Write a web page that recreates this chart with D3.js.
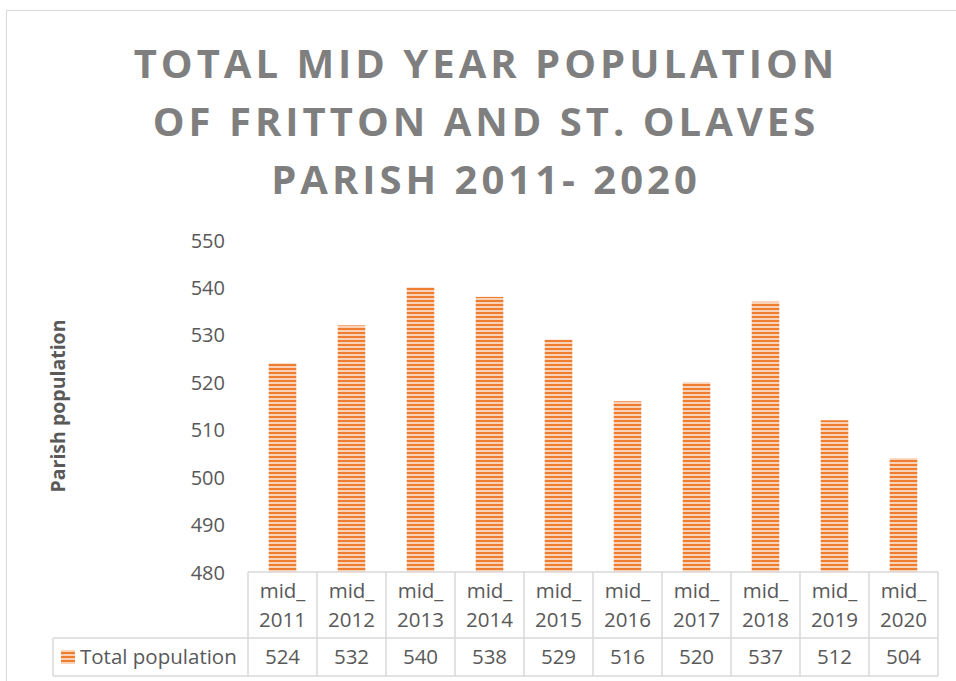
<!DOCTYPE html>
<html>
<head>
<meta charset="utf-8">
<script src="https://cdn.jsdelivr.net/npm/d3@7/dist/d3.min.js"></script>
<style>
  body { margin: 0; background: #fff; }
  text { font-family: "Open Sans", "Liberation Sans", sans-serif; }
</style>
</head>
<body>
<svg id="chart" width="956" height="681"></svg>
<script>
const categories = ["mid_2011", "mid_2012", "mid_2013", "mid_2014", "mid_2015",
                    "mid_2016", "mid_2017", "mid_2018", "mid_2019", "mid_2020"];
const population = [524, 532, 540, 538, 529, 516, 520, 537, 512, 504];
const yTicks = [480, 490, 500, 510, 520, 530, 540, 550];
const titleLines = ["TOTAL MID YEAR POPULATION", "OF FRITTON AND ST. OLAVES", "PARISH 2011- 2020"];
const seriesName = "Total population";

const svg = d3.select("#chart");
const textColor = "#595959";
const gridColor = "#d9d9d9";
const orange = "#ed7d31";

// chart border
svg.append("rect")
    .attr("x", 6.5).attr("y", 10.5)
    .attr("width", 960).attr("height", 700)
    .attr("fill", "#fff").attr("stroke", gridColor);

// stripe pattern for bars
const defs = svg.append("defs");
const pat = defs.append("pattern")
    .attr("id", "stripes")
    .attr("patternUnits", "userSpaceOnUse")
    .attr("width", 8).attr("height", 4);
pat.append("rect").attr("width", 8).attr("height", 4).attr("fill", "#f9d2b8");
pat.append("rect").attr("width", 8).attr("height", 2).attr("fill", orange);

// title
svg.append("g").selectAll("text")
    .data(titleLines)
    .join("text")
    .attr("x", 486)
    .attr("y", (d, i) => 78 + i * 58)
    .attr("text-anchor", "middle")
    .attr("font-size", 40)
    .attr("font-weight", "bold")
    .attr("letter-spacing", 4)
    .attr("fill", "#7f7f7f")
    .text(d => d);

const plotLeft = 248, plotRight = 938;
const plotTop = 240, plotBottom = 572;

const x = d3.scaleBand()
    .domain(categories)
    .range([plotLeft, plotRight])
    .paddingInner(0.6)
    .paddingOuter(0.3);

const y = d3.scaleLinear()
    .domain([480, 550])
    .range([plotBottom, plotTop]);

// y axis labels
const yAxis = svg.append("g")
    .attr("transform", "translate(" + 225 + ",0)")
    .call(d3.axisLeft(y).tickValues(yTicks).tickSize(0).tickPadding(0));
yAxis.select(".domain").remove();
yAxis.selectAll("text")
    .attr("font-size", 20)
    .attr("fill", textColor)
    .attr("dy", "0.35em");

// y axis title
svg.append("text")
    .attr("transform", "translate(65," + 406 + ") rotate(-90)")
    .attr("text-anchor", "middle")
    .attr("font-size", 19.5)
    .attr("font-weight", "bold")
    .attr("fill", textColor)
    .text("Parish population");

// bars
svg.append("g").selectAll("rect")
    .data(population)
    .join("rect")
    .attr("x", (d, i) => x(categories[i]))
    .attr("y", d => y(d))
    .attr("width", x.bandwidth())
    .attr("height", d => y(480) - y(d))
    .attr("fill", "url(#stripes)");

// data table
const step = x.step();
const rowTop = plotBottom, rowMid = 638, rowBottom = 676, legendLeft = 53;
const table = svg.append("g")
    .attr("stroke", gridColor)
    .attr("stroke-width", 1.5)
    .attr("fill", "none");

table.append("line")
    .attr("x1", plotLeft).attr("x2", plotRight)
    .attr("y1", rowTop).attr("y2", rowTop);
table.append("line")
    .attr("x1", legendLeft).attr("x2", plotRight)
    .attr("y1", rowMid).attr("y2", rowMid);
table.append("line")
    .attr("x1", legendLeft).attr("x2", plotRight)
    .attr("y1", rowBottom).attr("y2", rowBottom);
table.append("line")
    .attr("x1", legendLeft).attr("x2", legendLeft)
    .attr("y1", rowMid).attr("y2", rowBottom);
table.selectAll(".vline")
    .data(categories.concat(["end"]))
    .join("line")
    .attr("x1", (d, i) => plotLeft + i * step)
    .attr("x2", (d, i) => plotLeft + i * step)
    .attr("y1", rowTop).attr("y2", rowBottom);

// category labels, split onto two lines
const catG = svg.append("g");
categories.forEach(c => {
    const cx = x(c) + x.bandwidth() / 2;
    const parts = c.split("_");
    const t = catG.append("text")
        .attr("text-anchor", "middle")
        .attr("font-size", 20.5)
        .attr("fill", textColor);
    t.append("tspan").attr("x", cx).attr("y", 598).text(parts[0] + "_");
    t.append("tspan").attr("x", cx).attr("y", 627).text(parts[1]);
});

// values row
svg.append("g").selectAll("text")
    .data(population)
    .join("text")
    .attr("x", (d, i) => x(categories[i]) + x.bandwidth() / 2)
    .attr("y", 664)
    .attr("text-anchor", "middle")
    .attr("font-size", 20.5)
    .attr("fill", textColor)
    .text(d => d);

// legend key
svg.append("rect")
    .attr("x", 61).attr("y", 650)
    .attr("width", 14).attr("height", 14)
    .attr("fill", "url(#stripes)");
svg.append("text")
    .attr("x", 80).attr("y", 664)
    .attr("font-size", 20.5)
    .attr("fill", textColor)
    .text(seriesName);
</script>
</body>
</html>
